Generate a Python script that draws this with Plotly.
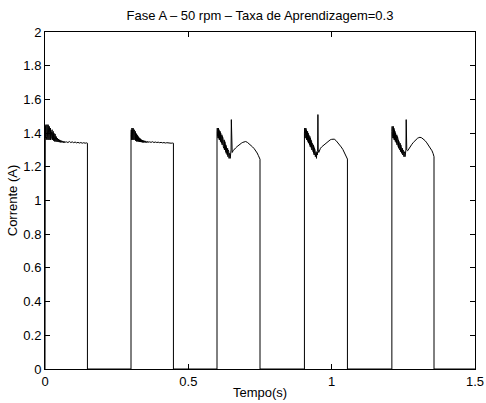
import plotly.graph_objects as go

# Phase A current, 50 rpm, learning rate 0.3
# Conduction windows (s): start and end of each current pulse
pulse_start = [0.000, 0.300, 0.600, 0.905, 1.210]
pulse_end = [0.148, 0.448, 0.750, 1.055, 1.357]

# Samples inside each pulse: time from pulse start (ms) and current (A)
p1_ms = [0, 1, 2, 3, 4, 5, 6, 7, 8, 9,
         10, 11, 12, 13, 14, 15, 16, 17, 18, 19,
         20, 21, 22, 23, 24, 25, 26, 27, 28, 29,
         30, 31, 32, 33, 34, 35, 36, 37, 38, 39,
         40, 41, 42, 43, 44, 45, 46, 47, 48, 49,
         50, 51, 52, 53, 54, 55, 56, 57, 58, 59,
         60, 61, 62, 63, 64, 65, 66, 67, 68, 69, 70,
         75, 80, 85, 90, 95, 100, 105, 110, 115, 120, 125, 130, 135, 140, 145, 148]
p1_i = [1.40, 1.44, 1.37, 1.45, 1.36, 1.43, 1.38, 1.45, 1.37, 1.44,
        1.36, 1.45, 1.37, 1.43, 1.36, 1.44, 1.37, 1.42, 1.36, 1.43,
        1.36, 1.42, 1.37, 1.41, 1.36, 1.42, 1.36, 1.40, 1.355, 1.41,
        1.355, 1.40, 1.355, 1.39, 1.35, 1.395, 1.35, 1.385, 1.35, 1.38,
        1.35, 1.375, 1.348, 1.37, 1.35, 1.37, 1.347, 1.365, 1.348, 1.362,
        1.346, 1.36, 1.347, 1.358, 1.345, 1.357, 1.346, 1.355, 1.345, 1.354,
        1.345, 1.353, 1.345, 1.352, 1.344, 1.352, 1.345, 1.351, 1.344, 1.35, 1.346,
        1.348, 1.344, 1.350, 1.344, 1.348, 1.343, 1.347, 1.342, 1.345, 1.341,
        1.344, 1.340, 1.343, 1.340, 1.342, 1.340]

p2_ms = [0, 1, 2, 3, 4, 5, 6, 7, 8, 9,
         10, 11, 12, 13, 14, 15, 16, 17, 18, 19,
         20, 21, 22, 23, 24, 25, 26, 27, 28, 29,
         30, 31, 32, 33, 34, 35, 36, 37, 38, 39,
         40, 41, 42, 43, 44, 45, 46, 47, 48, 49,
         50, 51, 52, 53, 54, 55, 56, 57, 58, 59, 60,
         65, 70, 75, 80, 85, 90, 95, 100, 105, 110, 115, 120, 125, 130, 135, 140, 145, 148]
p2_i = [1.39, 1.42, 1.36, 1.43, 1.37, 1.42, 1.36, 1.43, 1.37, 1.42,
        1.36, 1.42, 1.37, 1.41, 1.36, 1.41, 1.355, 1.40, 1.355, 1.395,
        1.35, 1.39, 1.355, 1.385, 1.35, 1.38, 1.35, 1.375, 1.35, 1.37,
        1.348, 1.37, 1.347, 1.365, 1.348, 1.362, 1.346, 1.36, 1.347, 1.358,
        1.345, 1.357, 1.346, 1.355, 1.345, 1.354, 1.345, 1.353, 1.345, 1.352,
        1.344, 1.352, 1.345, 1.351, 1.344, 1.35, 1.346, 1.35, 1.345, 1.349, 1.346,
        1.348, 1.345, 1.349, 1.344, 1.347, 1.344, 1.346, 1.343, 1.345, 1.342,
        1.344, 1.341, 1.343, 1.341, 1.342, 1.340, 1.341, 1.340]

p3_ms = [0, 1, 2, 3, 4, 5, 6, 7, 8, 9,
         10, 11, 12, 13, 14, 15, 16, 17, 18, 19,
         20, 21, 22, 23, 24, 25, 26, 27, 28, 29,
         30, 31, 32, 33, 34, 35, 36, 37, 38, 39,
         40, 41, 42, 43, 44, 45, 46,
         48, 49, 50, 51, 53, 56, 60, 65, 70, 75, 80, 85, 90, 95, 100,
         106, 112, 118, 124, 130, 136, 140, 144, 147, 150]
p3_i = [1.40, 1.43, 1.38, 1.42, 1.37, 1.43, 1.37, 1.42, 1.36, 1.41,
        1.36, 1.41, 1.35, 1.40, 1.35, 1.39, 1.34, 1.39, 1.33, 1.38,
        1.33, 1.37, 1.32, 1.36, 1.31, 1.36, 1.30, 1.35, 1.30, 1.34,
        1.29, 1.33, 1.28, 1.32, 1.28, 1.31, 1.27, 1.31, 1.26, 1.30,
        1.26, 1.29, 1.25, 1.28, 1.25, 1.27, 1.25,
        1.27, 1.30, 1.48, 1.30, 1.285, 1.295, 1.305, 1.312, 1.32, 1.328, 1.335, 1.34,
        1.345, 1.348, 1.35,
        1.345, 1.337, 1.328, 1.318, 1.307, 1.295, 1.282, 1.268, 1.255, 1.245]

p4_ms = [0, 1, 2, 3, 4, 5, 6, 7, 8, 9,
         10, 11, 12, 13, 14, 15, 16, 17, 18, 19,
         20, 21, 22, 23, 24, 25, 26, 27, 28, 29,
         30, 31, 32, 33, 34, 35, 36, 37, 38, 39,
         40, 41, 42, 43, 44,
         45, 46, 47, 48, 50, 53, 56, 60, 65, 70, 75, 80, 85, 90, 95, 100,
         104, 110, 116, 122, 128, 134, 140, 144, 147, 150]
p4_i = [1.40, 1.43, 1.37, 1.42, 1.38, 1.43, 1.37, 1.42, 1.36, 1.41,
        1.36, 1.41, 1.35, 1.40, 1.34, 1.39, 1.34, 1.38, 1.33, 1.38,
        1.32, 1.37, 1.32, 1.36, 1.31, 1.35, 1.30, 1.34, 1.30, 1.33,
        1.29, 1.33, 1.28, 1.32, 1.27, 1.31, 1.27, 1.30, 1.26, 1.29,
        1.26, 1.29, 1.25, 1.28, 1.25,
        1.27, 1.29, 1.51, 1.30, 1.285, 1.30, 1.31, 1.318, 1.326, 1.334, 1.342, 1.35,
        1.355, 1.36, 1.363, 1.365,
        1.364, 1.356, 1.345, 1.332, 1.318, 1.303, 1.285, 1.27, 1.256, 1.246]

p5_ms = [0, 1, 2, 3, 4, 5, 6, 7, 8, 9,
         10, 11, 12, 13, 14, 15, 16, 17, 18, 19,
         20, 21, 22, 23, 24, 25, 26, 27, 28, 29,
         30, 31, 32, 33, 34, 35, 36, 37, 38, 39,
         40, 41, 42, 43, 44, 45, 46,
         48, 49, 50, 52, 55, 60, 65, 70, 75, 80, 85, 90, 94, 98,
         104, 110, 116, 122, 128, 134, 140, 144, 147]
p5_i = [1.41, 1.44, 1.38, 1.43, 1.37, 1.44, 1.37, 1.43, 1.36, 1.42,
        1.36, 1.41, 1.35, 1.40, 1.35, 1.39, 1.34, 1.39, 1.33, 1.38,
        1.33, 1.37, 1.32, 1.36, 1.31, 1.35, 1.31, 1.34, 1.30, 1.34,
        1.29, 1.33, 1.29, 1.32, 1.28, 1.31, 1.28, 1.31, 1.27, 1.30,
        1.27, 1.29, 1.26, 1.29, 1.26, 1.28, 1.26,
        1.28, 1.30, 1.48, 1.30, 1.295, 1.31, 1.322, 1.334, 1.345, 1.355, 1.363,
        1.37, 1.373, 1.375,
        1.372, 1.365, 1.355, 1.342, 1.328, 1.312, 1.295, 1.278, 1.26]

pulse_ms = [p1_ms, p2_ms, p3_ms, p4_ms, p5_ms]
pulse_i = [p1_i, p2_i, p3_i, p4_i, p5_i]

x_ticks = [0, 0.5, 1, 1.5]
x_tick_text = ["0", "0.5", "1", "1.5"]
y_ticks = [0, 0.2, 0.4, 0.6, 0.8, 1, 1.2, 1.4, 1.6, 1.8, 2]
y_tick_text = ["0", "0.2", "0.4", "0.6", "0.8", "1", "1.2", "1.4", "1.6", "1.8", "2"]

# Full current waveform: zero between pulses, vertical rising/falling edges
t_all, i_all = [], []
for k, (t0, t1) in enumerate(zip(pulse_start, pulse_end)):
    t_all += [t0]
    i_all += [0.0]
    t_all += [t0 + m / 1000.0 for m in pulse_ms[k]]
    i_all += pulse_i[k]
    t_all += [t1, t1]
    i_all += [pulse_i[k][-1], 0.0]
t_all.append(1.5)
i_all.append(0.0)

fig = go.Figure()
fig.add_trace(go.Scatter(x=t_all, y=i_all, mode="lines",
                         line=dict(color="black", width=1), showlegend=False))

font = dict(family="Liberation Sans, Arial, sans-serif", size=13, color="black")
axis_common = dict(showline=True, linecolor="black", linewidth=1, mirror="ticks",
                   ticks="inside", ticklen=5, tickcolor="black", showgrid=False,
                   zeroline=False, tickfont=font, automargin=False)

fig.update_layout(
    width=486, height=403,
    margin=dict(l=45, r=11, t=32, b=34),
    paper_bgcolor="white", plot_bgcolor="white",
    font=font,
    title=dict(text="Fase A – 50 rpm – Taxa de Aprendizagem=0.3",
               x=(45 + 475) / 2 / 486, xanchor="center", y=1 - 15 / 403, yanchor="middle",
               font=font),
    xaxis=dict(range=[0, 1.5], tickvals=x_ticks, ticktext=x_tick_text,
               title=dict(text="Tempo(s)", font=font, standoff=0), **axis_common),
    yaxis=dict(range=[0, 2], tickvals=y_ticks, ticktext=y_tick_text,
               title=dict(text="Corrente (A)", font=font, standoff=2), **axis_common),
)

fig.write_html("out.html")
